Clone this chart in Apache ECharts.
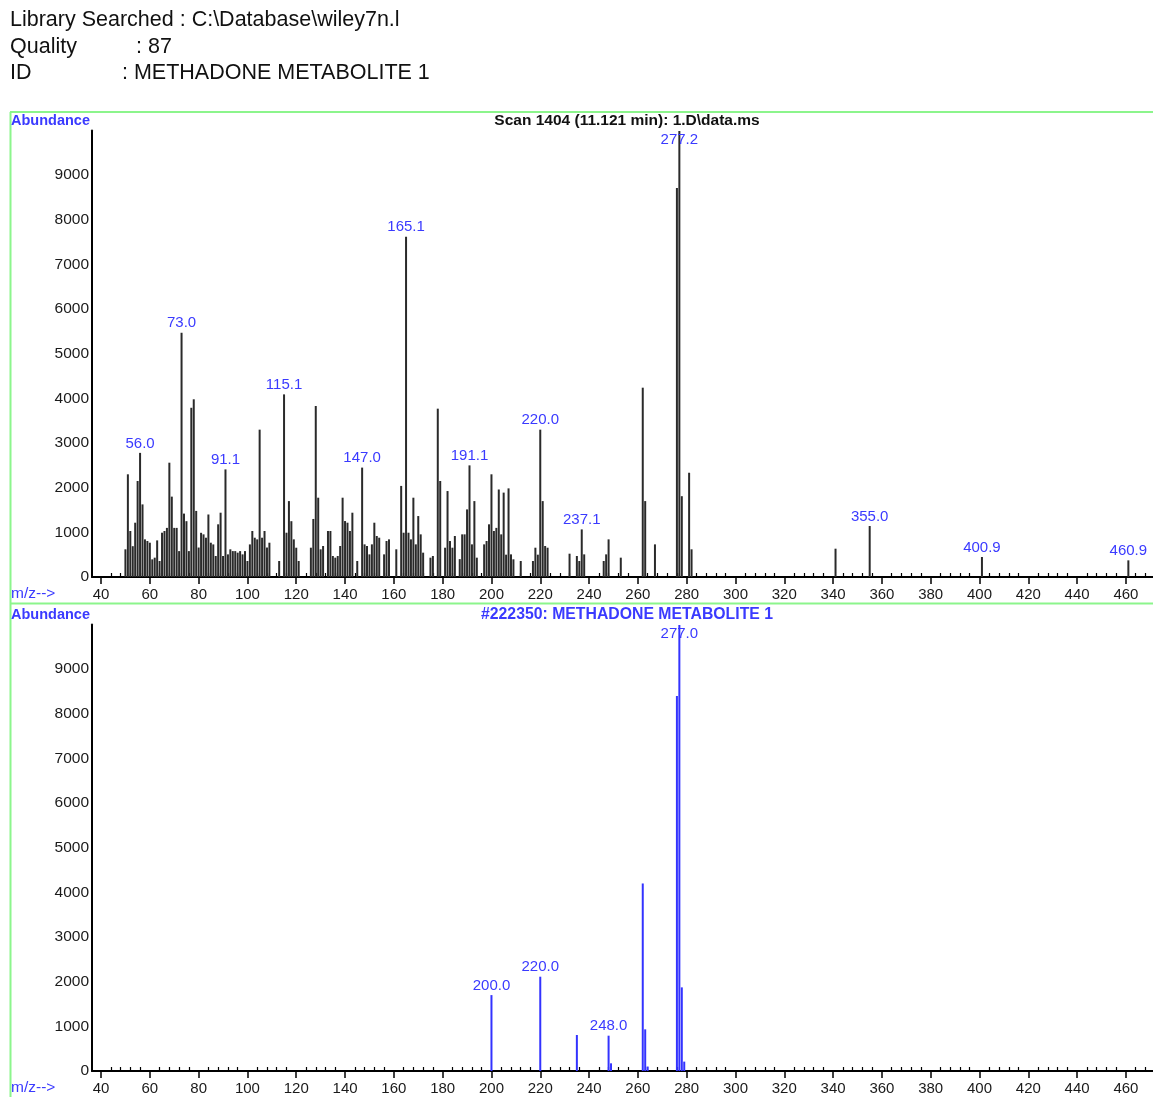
<!DOCTYPE html>
<html>
<head>
<meta charset="utf-8">
<script src="https://cdn.jsdelivr.net/npm/echarts@6/dist/echarts.min.js"></script>
<style>
html,body{margin:0;padding:0;background:#fff;}
#chart{width:1153px;height:1097px;}
</style>
</head>
<body>
<div id="chart"></div>
<script>
// ---- Data ----
const scanMz = [50,51,52,53,54,55,56,57,58,59,60,61,62,63,64,65,66,67,68,69,70,71,72,73,74,75,76,77,78,79,80,81,82,83,84,85,86,87,88,89,90,91,92,93,94,95,96,97,98,99,100,101,102,103,104,105,106,107,108,109,113,115,116,117,118,119,120,121,126,127,128,129,130,131,133,134,135,136,137,138,139,140,141,142,143,145,147,148,149,150,151,152,153,154,156,157,158,161,163,164,165,166,167,168,169,170,171,172,175,176,178,179,181,182,183,184,185,187,188,189,190,191,192,193,194,197,198,199,200,201,202,203,204,205,206,207,208,209,212,217,218,219,220,221,222,223,232,235,236,237,238,246,247,248,253,262,263,267,276,277,278,281,282,341,355,401,461];
const scanAbundance = [620,2300,1030,690,1216,2150,2780,1626,843,806,768,395,433,820,358,992,1030,1100,2560,1800,1100,1100,580,5470,1420,1250,580,3790,3980,1480,660,990,955,880,1400,768,730,470,1180,1440,470,2410,507,620,580,580,545,580,507,580,358,730,1030,880,843,3300,880,1030,660,768,358,4090,992,1700,1250,843,656,358,656,1300,3830,1776,620,694,1030,1030,470,433,470,694,1776,1253,1216,1030,1440,358,2450,731,694,507,731,1216,918,880,507,806,843,620,2040,992,7620,992,843,1776,731,1365,955,545,433,470,3770,2150,656,1925,806,656,918,400,955,955,1514,2500,731,1700,433,731,806,1180,2300,1030,1100,1960,955,1890,500,1985,507,396,358,358,656,500,3300,1700,694,656,522,470,358,1066,507,358,507,843,433,4240,1700,731,8710,9990,1810,2335,620,634,1142,448,373];
const scanPeakMz = [56,73,91,115,147,165,191,220,237,277,355,401,461];
const scanPeakText = ['56.0','73.0','91.1','115.1','147.0','165.1','191.1','220.0','237.1','277.2','355.0','400.9','460.9'];

const libMz = [200,220,235,248,249,262,263,264,276,277,278,279];
const libAbundance = [1700,2112,806,791,172,4200,933,100,8400,9990,1873,210];
const libPeakMz = [200,220,248,277];
const libPeakText = ['200.0','220.0','248.0','277.0'];

const xTickLabels = [40,60,80,100,120,140,160,180,200,220,240,260,280,300,320,340,360,380,400,420,440,460];
const xMinorTicks = [36,44,48,52,56,64,68,72,76,84,88,92,96,104,108,112,116,124,128,132,136,144,148,152,156,164,168,172,176,184,188,192,196,204,208,212,216,224,228,232,236,244,248,252,256,264,268,272,276,284,288,292,296,304,308,312,316,324,328,332,336,344,348,352,356,364,368,372,376,384,388,392,396,404,408,412,416,424,428,432,436,444,448,452,456,464,468];

const headerLines = ['Library Searched : C:\\Database\\wiley7n.l'];
const scanTitle = 'Scan 1404 (11.121 min): 1.D\\data.ms';
const libTitle = '#222350: METHADONE METABOLITE 1';

// ---- Build ----
const FONT = "'Liberation Sans', Arial, sans-serif";
const BLUE = '#3a3aff';
const X_MIN = 36.3, X_MAX = 471.1;

function buildData(mzArr, abArr, peakMz, peakText){
  return mzArr.map((m,i)=>{
    const idx = peakMz.indexOf(m);
    const item = {value:[m, abArr[i]]};
    if(idx >= 0){
      const big = abArr[i] > 9000;
      item.label = {
        show:true,
        formatter: peakText[idx],
        position: big ? 'insideTop' : 'top',
        distance: big ? 1 : 2,
        color: BLUE, fontSize: 15, fontFamily: FONT
      };
    }
    return item;
  });
}

function xAxes(gridIndex){
  return [
    {
      type:'value', gridIndex, min:X_MIN, max:X_MAX,
      axisLine:{show:true, onZero:false, lineStyle:{color:'#000', width:2}},
      axisTick:{show:true, customValues:xTickLabels, length:7, lineStyle:{color:'#000', width:1.5}},
      axisLabel:{show:true, customValues:xTickLabels, fontSize:15, color:'#1a1a1a', fontFamily:FONT, margin:10},
      splitLine:{show:false}
    },
    {
      type:'value', gridIndex, min:X_MIN, max:X_MAX,
      axisLine:{show:false},
      axisTick:{show:true, customValues:xMinorTicks, length:4, lineStyle:{color:'#000', width:1.2}},
      axisLabel:{show:false},
      splitLine:{show:false}
    }
  ];
}
function yAxis(gridIndex){
  return {
    type:'value', gridIndex, min:0, max:10000, interval:1000,
    axisLine:{show:true, lineStyle:{color:'#000', width:2}},
    axisTick:{show:false},
    axisLabel:{show:true, showMaxLabel:false, fontSize:15.5, color:'#1a1a1a', fontFamily:FONT, margin:3,
      formatter:(v)=>String(v)},
    splitLine:{show:false}
  };
}

const chart = echarts.init(document.getElementById('chart'), null, {renderer:'canvas'});

const graphics = [
  // green frames
  {type:'line', shape:{x1:10, y1:112, x2:1153, y2:112}, style:{stroke:'#8cf58c', lineWidth:2}},
  {type:'line', shape:{x1:10, y1:603.5, x2:1153, y2:603.5}, style:{stroke:'#8cf58c', lineWidth:2}},
  {type:'line', shape:{x1:10.5, y1:112, x2:10.5, y2:1097}, style:{stroke:'#8cf58c', lineWidth:2}},
  // header
  {type:'text', x:10, y:20, style:{text:headerLines[0], font:"21.5px "+FONT, fill:'#111', textVerticalAlign:'middle'}},
  {type:'text', x:10, y:47, style:{text:'Quality', font:"21.5px "+FONT, fill:'#111', textVerticalAlign:'middle'}},
  {type:'text', x:136, y:47, style:{text:': 87', font:"21.5px "+FONT, fill:'#111', textVerticalAlign:'middle'}},
  {type:'text', x:10, y:73, style:{text:'ID', font:"21.5px "+FONT, fill:'#111', textVerticalAlign:'middle'}},
  {type:'text', x:122, y:73, style:{text:': METHADONE METABOLITE 1', font:"21.5px "+FONT, fill:'#111', textVerticalAlign:'middle'}},
  // panel texts
  {type:'text', x:11, y:121, style:{text:'Abundance', font:"bold 14.5px "+FONT, fill:BLUE, textVerticalAlign:'middle'}},
  {type:'text', x:11, y:594, style:{text:'m/z-->', font:"15.5px "+FONT, fill:BLUE, textVerticalAlign:'middle'}},
  {type:'text', x:11, y:615, style:{text:'Abundance', font:"bold 14.5px "+FONT, fill:BLUE, textVerticalAlign:'middle'}},
  {type:'text', x:11, y:1088, style:{text:'m/z-->', font:"15.5px "+FONT, fill:BLUE, textVerticalAlign:'middle'}},
  {type:'text', x:627, y:121, style:{text:scanTitle, font:"bold 15.5px "+FONT, fill:'#111', textAlign:'center', textVerticalAlign:'middle'}},
  {type:'text', x:627, y:615, style:{text:libTitle, font:"bold 15.8px "+FONT, fill:BLUE, textAlign:'center', textVerticalAlign:'middle'}}
];

chart.setOption({
  animation:false,
  backgroundColor:'#fff',
  grid:[
    {left:92, top:130.5, width:1061, height:446.5},
    {left:92, top:624.5, width:1061, height:446.5}
  ],
  xAxis:[...xAxes(0), ...xAxes(1)],
  yAxis:[yAxis(0), yAxis(1)],
  series:[
    {type:'bar', xAxisIndex:0, yAxisIndex:0, barWidth:2, itemStyle:{color:'#2a2a2a'},
     data:buildData(scanMz, scanAbundance, scanPeakMz, scanPeakText)},
    {type:'bar', xAxisIndex:2, yAxisIndex:1, barWidth:2, itemStyle:{color:'#3333ff'},
     data:buildData(libMz, libAbundance, libPeakMz, libPeakText)}
  ],
  graphic:graphics
});
</script>
</body>
</html>
